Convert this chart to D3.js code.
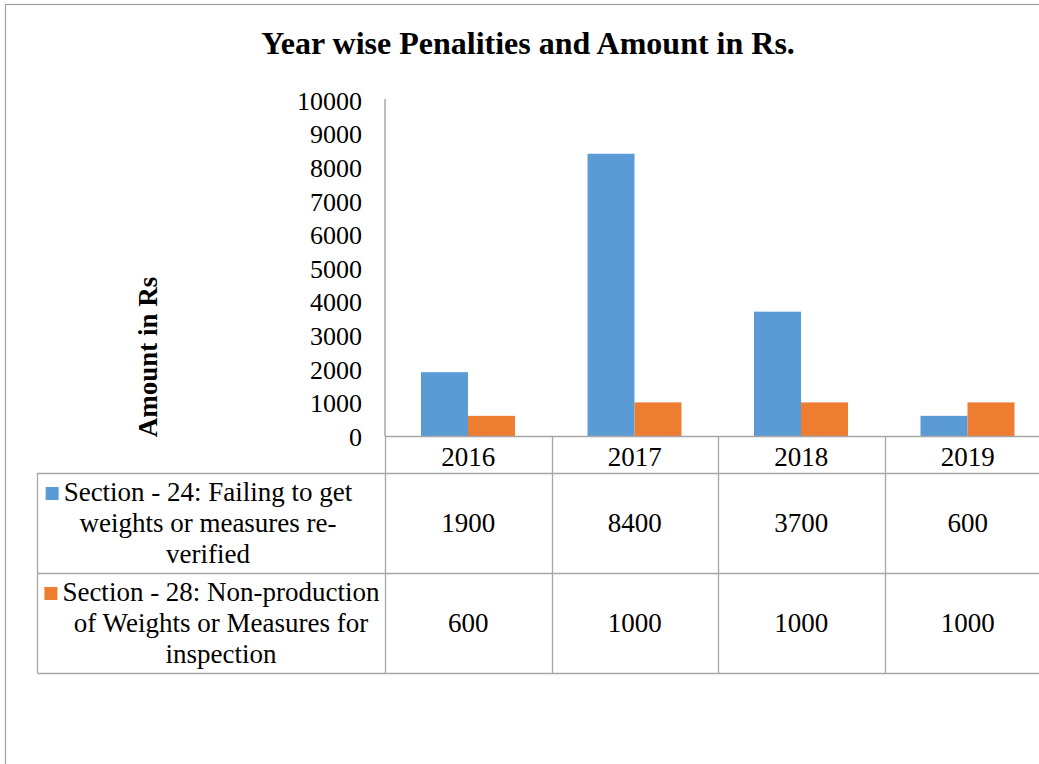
<!DOCTYPE html>
<html>
<head>
<meta charset="utf-8">
<script src="https://cdn.jsdelivr.net/npm/d3@7"></script>
<style>
  html, body { margin: 0; padding: 0; background: #fff; }
  svg { display: block; }
  text { font-family: "Liberation Serif", "Times New Roman", serif; fill: #000; }
</style>
</head>
<body>
<svg id="chart" width="1039" height="764"></svg>
<script>
// Year-wise penalty amounts (Rs.) by section
const years = ["2016", "2017", "2018", "2019"];
const seriesNames = [
  ["Section - 24: Failing to get", "weights or measures re-", "verified"],
  ["Section - 28: Non-production", "of Weights or Measures for", "inspection"]
];
const section24 = [1900, 8400, 3700, 600];
const section28 = [600, 1000, 1000, 1000];
const yTicks = [0, 1000, 2000, 3000, 4000, 5000, 6000, 7000, 8000, 9000, 10000];
const colors = ["#5B9BD5", "#ED7D31"];

const series = [section24, section28];
const svg = d3.select("#chart");
const gridColor = "#a6a6a6";

// Frame around the chart area
svg.append("rect")
  .attr("x", 5.5).attr("y", 4.5)
  .attr("width", 1100).attr("height", 800)
  .attr("fill", "none").attr("stroke", "#a0a0a0").attr("stroke-width", 1.2);

// Title
svg.append("text")
  .attr("x", 528).attr("y", 54)
  .attr("text-anchor", "middle")
  .style("font-size", "32px").style("font-weight", "bold")
  .text("Year wise Penalities and Amount in Rs.");

// Scales
const plotLeft = 385, plotTop = 100, plotBottom = 436;
const colW = 166.5;
const x0 = d3.scaleBand().domain(years)
  .range([plotLeft, plotLeft + colW * years.length]).padding(0);
const x1 = d3.scaleBand().domain(d3.range(series.length))
  .range([36, 130]).padding(0);
const y = d3.scaleLinear().domain([0, 10000]).range([plotBottom, plotTop]);

// Y axis
const yAxis = d3.axisLeft(y).tickValues(yTicks).tickSize(0).tickPadding(23)
  .tickFormat(d3.format("d"));
const gy = svg.append("g").attr("transform", `translate(${plotLeft},0)`).call(yAxis);
gy.select(".domain").attr("stroke", "#9a9a9a").attr("stroke-width", 1.3)
  .attr("d", `M0,${y(10000) - 1}V${plotBottom}`);
gy.selectAll(".tick text")
  .style("font-family", "'Liberation Serif', serif")
  .style("font-size", "26px").attr("fill", "#000").attr("dy", "0.36em");

// Y axis title
svg.append("text")
  .attr("transform", "translate(157,357) rotate(-90)")
  .attr("text-anchor", "middle")
  .style("font-size", "27px").style("font-weight", "bold")
  .text("Amount in Rs");

// Bars
const groups = svg.append("g").selectAll("g")
  .data(years).join("g")
  .attr("transform", d => `translate(${x0(d)},0)`);
groups.selectAll("rect")
  .data((d, i) => series.map((s, k) => ({ k, v: s[i] })))
  .join("rect")
  .attr("x", d => x1(d.k))
  .attr("width", x1.bandwidth())
  .attr("y", d => y(d.v))
  .attr("height", d => y(0) - y(d.v))
  .attr("fill", d => colors[d.k]);

// Data table beneath the axis
const tableLeft = 37.5, rightEdge = 1060;
const headerBottom = 473, rowH = 100;
const rowTops = seriesNames.map((_, i) => headerBottom + i * rowH);
const tableBottom = headerBottom + rowH * seriesNames.length;
const grid = svg.append("g").attr("stroke", gridColor).attr("stroke-width", 1.3);

grid.append("line").attr("x1", plotLeft).attr("x2", rightEdge)
  .attr("y1", plotBottom + 0.5).attr("y2", plotBottom + 0.5);
[headerBottom, ...rowTops.slice(1), tableBottom].forEach(yy => {
  grid.append("line").attr("x1", tableLeft).attr("x2", rightEdge)
    .attr("y1", yy + 0.5).attr("y2", yy + 0.5);
});
grid.append("line").attr("x1", tableLeft).attr("x2", tableLeft)
  .attr("y1", headerBottom).attr("y2", tableBottom);
years.forEach(yr => {
  grid.append("line").attr("x1", Math.round(x0(yr)) + 0.5).attr("x2", Math.round(x0(yr)) + 0.5)
    .attr("y1", plotBottom).attr("y2", tableBottom);
});

// Header row: years
svg.append("g").selectAll("text").data(years).join("text")
  .attr("x", d => x0(d) + x0.bandwidth() / 2)
  .attr("y", plotBottom + 30)
  .attr("text-anchor", "middle")
  .style("font-size", "27px")
  .text(d => d);

// Series label cells with legend keys
const labelCenters = [208, 221];
seriesNames.forEach((lines, i) => {
  const top = rowTops[i];
  const g = svg.append("g");
  lines.forEach((ln, j) => {
    const t = g.append("text")
      .attr("x", labelCenters[i])
      .attr("y", top + 28 + j * 31)
      .attr("text-anchor", "middle")
      .style("font-size", "27px")
      .text(ln);
    if (j === 0) {
      const bb = t.node().getBBox();
      g.append("rect")
        .attr("x", bb.x - 18).attr("y", top + 14)
        .attr("width", 13).attr("height", 13)
        .attr("fill", colors[i]);
    }
  });
  // Values
  svg.append("g").selectAll("text").data(series[i]).join("text")
    .attr("x", (d, k) => x0(years[k]) + x0.bandwidth() / 2)
    .attr("y", top + 59)
    .attr("text-anchor", "middle")
    .style("font-size", "27px")
    .text(d => d);
});
</script>
</body>
</html>
